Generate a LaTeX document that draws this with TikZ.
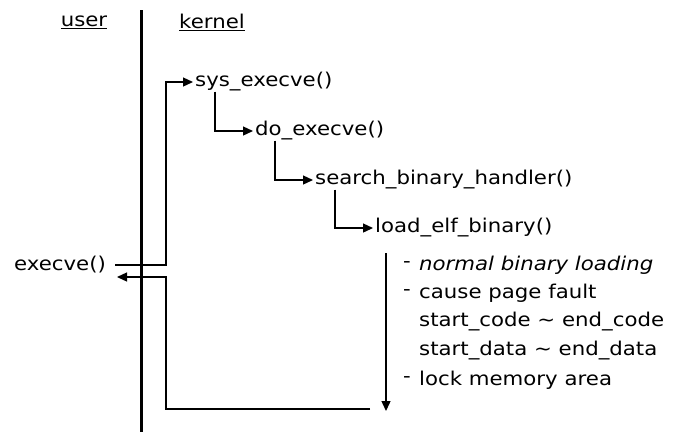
\documentclass[tikz,border=0pt]{standalone}
\usepackage{fontspec}
\setmainfont[FakeStretch=1.12]{DejaVu Sans}
\usetikzlibrary{arrows.meta,positioning}

\begin{document}
\begin{tikzpicture}[x=1pt,y=-1pt,
    every node/.style={font=\fontsize{19}{23}\selectfont,inner sep=0pt},
    fn/.style={anchor=west,inner xsep=2pt},
    link/.style={line width=1.3pt},
    call/.style={link,-{Triangle[length=10pt,width=9pt]}}]
  \useasboundingbox (0,0) rectangle (700,432);

  % user / kernel boundary
  \node (user) at (84,22) {\underline{user}};
  \node (kernel) at (212,22) {\underline{kernel}};
  \coordinate (top) at (141,10);
  \coordinate (bot) at (141,432);
  \draw[line width=3pt] (top) -- (bot);

  % call chain
  \node (execve) at (60,265) {execve()};
  \node[fn] (sys) at (193,82) {sys\_execve()};
  \node[fn] (do) at (253,131) {do\_execve()};
  \node[fn] (search) at (313,180) {search\_binary\_handler()};
  \node[fn] (load) at (373,228) {load\_elf\_binary()};

  \coordinate (callcorner) at (166,265);
  \draw[call] ([xshift=9pt]execve.east) -- (callcorner) |- (sys.west);
  \draw[call] ([xshift=22pt]sys.south west) |- (do.west);
  \draw[call] ([xshift=22pt]do.south west) |- (search.west);
  \draw[call] ([xshift=22pt]search.south west) |- (load.west);

  % what load_elf_binary() does
  \node[anchor=west] (note1) at (419,265) {\textit{normal binary loading}};
  \node[anchor=west] (note2) at (419,293) {cause page fault};
  \node[anchor=west] (note3) at (419,322) {start\_code \textasciitilde{} end\_code};
  \node[anchor=west] (note4) at (419,351) {start\_data \textasciitilde{} end\_data};
  \node[anchor=west] (note5) at (419,380) {lock memory area};
  \node[left=8pt of note1] (dash1) {-};
  \node[left=8pt of note2] (dash2) {-};
  \node[left=8pt of note5] (dash5) {-};

  \coordinate (flowtop) at (386,253);
  \coordinate (flowend) at (386,411);
  \draw[call] (flowtop) -- (flowend);

  % return to user space
  \coordinate (retstart) at (370,409);
  \coordinate (retcorner) at (166,277);
  \coordinate (retend) at (117,277);
  \draw[call] (retstart) -| (retcorner) -- (retend);
\end{tikzpicture}
\end{document}
